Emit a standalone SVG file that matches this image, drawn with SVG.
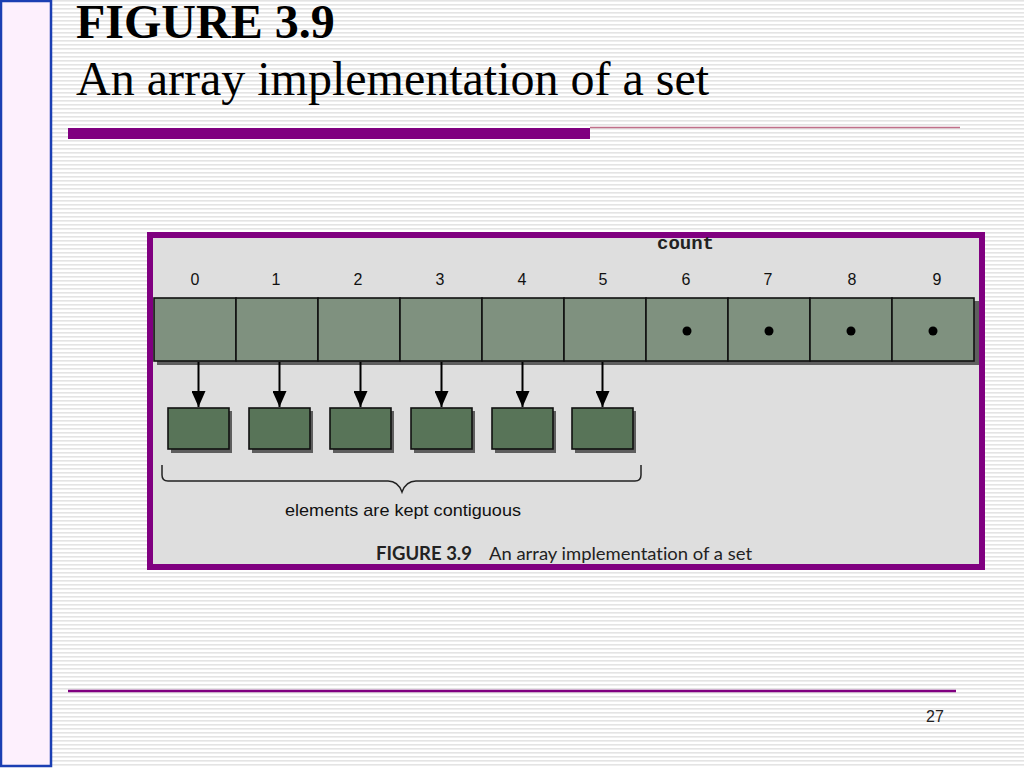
<svg xmlns="http://www.w3.org/2000/svg" width="1024" height="768" viewBox="0 0 1024 768">
<defs>
<pattern id="stripes" x="0" y="0" width="8" height="4" patternUnits="userSpaceOnUse">
<rect x="0" y="0" width="8" height="4" fill="#ffffff"/>
<rect x="0" y="0" width="8" height="1.6" fill="#e4e4e4"/>
</pattern>
<marker id="arrow" viewBox="0 0 16 14" refX="16" refY="7" markerWidth="16" markerHeight="14" markerUnits="userSpaceOnUse" orient="auto">
<path d="M0,0 L16,7 L0,14 Z" fill="#000"/>
</marker>
<style>
.cell{fill:#7f917f;stroke:#111;stroke-width:1.6}
.elem{fill:#587458;stroke:#111;stroke-width:1.6}
.shadow{fill:#5e5e5e}
.idx{font-family:"Liberation Sans",Arial,sans-serif;font-size:16px;fill:#111;text-anchor:middle}
.dot{fill:#000}
.conn{stroke:#000;stroke-width:2;fill:none}
</style>
</defs>

<rect x="0" y="0" width="1024" height="768" fill="url(#stripes)"/>
<rect x="1" y="1" width="50" height="765" fill="#fdf0fd" stroke="#1b3fb3" stroke-width="2.5"/>

<g id="title">
<text x="76" y="38" font-family="Liberation Serif,'Times New Roman',serif" font-weight="bold" font-size="48" fill="#000">FIGURE 3.9</text>
<text x="76" y="95" font-family="Liberation Serif,'Times New Roman',serif" font-size="48" fill="#000">An array implementation of a set</text>
</g>

<rect x="68" y="128" width="522" height="11" fill="#800080"/>
<line x1="590" y1="127.5" x2="960" y2="127.5" stroke="#c0708a" stroke-width="1.5"/>

<g id="frame">
<rect x="150" y="235" width="832" height="332" fill="#dedede" stroke="#800080" stroke-width="6"/>
</g>

<text x="657" y="249" font-family="Liberation Mono,'Courier New',monospace" font-weight="bold" font-size="18" fill="#222" textLength="57" lengthAdjust="spacingAndGlyphs">count</text>

<g id="array">
<rect class="shadow" x="157" y="301" width="822" height="64"/>
<rect class="cell" x="154" y="298" width="82" height="63"/>
<rect class="cell" x="236" y="298" width="82" height="63"/>
<rect class="cell" x="318" y="298" width="82" height="63"/>
<rect class="cell" x="400" y="298" width="82" height="63"/>
<rect class="cell" x="482" y="298" width="82" height="63"/>
<rect class="cell" x="564" y="298" width="82" height="63"/>
<rect class="cell" x="646" y="298" width="82" height="63"/>
<rect class="cell" x="728" y="298" width="82" height="63"/>
<rect class="cell" x="810" y="298" width="82" height="63"/>
<rect class="cell" x="892" y="298" width="82" height="63"/>
<circle class="dot" cx="687" cy="331" r="4.5"/>
<circle class="dot" cx="769" cy="331" r="4.5"/>
<circle class="dot" cx="851" cy="331" r="4.5"/>
<circle class="dot" cx="933" cy="331" r="4.5"/>
<text class="idx" x="195" y="285">0</text>
<text class="idx" x="276" y="285">1</text>
<text class="idx" x="358" y="285">2</text>
<text class="idx" x="440" y="285">3</text>
<text class="idx" x="522" y="285">4</text>
<text class="idx" x="603" y="285">5</text>
<text class="idx" x="686" y="285">6</text>
<text class="idx" x="768" y="285">7</text>
<text class="idx" x="852" y="285">8</text>
<text class="idx" x="937" y="285">9</text>
</g>

<g id="element0"><rect class="shadow" x="171" y="411" width="61" height="42"/><rect class="elem" x="168" y="408" width="61" height="41"/></g>
<g id="element1"><rect class="shadow" x="252" y="411" width="61" height="42"/><rect class="elem" x="249" y="408" width="61" height="41"/></g>
<g id="element2"><rect class="shadow" x="333" y="411" width="61" height="42"/><rect class="elem" x="330" y="408" width="61" height="41"/></g>
<g id="element3"><rect class="shadow" x="414" y="411" width="61" height="42"/><rect class="elem" x="411" y="408" width="61" height="41"/></g>
<g id="element4"><rect class="shadow" x="495" y="411" width="61" height="42"/><rect class="elem" x="492" y="408" width="61" height="41"/></g>
<g id="element5"><rect class="shadow" x="575" y="411" width="61" height="42"/><rect class="elem" x="572" y="408" width="61" height="41"/></g>

<g id="connectors">
<line class="conn" x1="198.5" y1="362" x2="198.5" y2="407" marker-end="url(#arrow)"/>
<line class="conn" x1="279.5" y1="362" x2="279.5" y2="407" marker-end="url(#arrow)"/>
<line class="conn" x1="360.5" y1="362" x2="360.5" y2="407" marker-end="url(#arrow)"/>
<line class="conn" x1="441.5" y1="362" x2="441.5" y2="407" marker-end="url(#arrow)"/>
<line class="conn" x1="522.5" y1="362" x2="522.5" y2="407" marker-end="url(#arrow)"/>
<line class="conn" x1="602.5" y1="362" x2="602.5" y2="407" marker-end="url(#arrow)"/>
</g>

<g id="brace">
<path d="M162,465 L162,475 Q162,481 168,481 L388,481 Q398,481 402,492 Q406,481 416,481 L635,481 Q641,481 641,475 L641,465" fill="none" stroke="#222" stroke-width="1.5"/>
<text x="285" y="516" font-family="Liberation Sans,Arial,sans-serif" font-size="17" fill="#111" textLength="236" lengthAdjust="spacingAndGlyphs">elements are kept contiguous</text>
</g>

<g id="caption" style="font-variant-ligatures:none">
<text x="376" y="560" font-family="Lato,'Open Sans',sans-serif" font-weight="bold" font-size="18" fill="#222" textLength="96" lengthAdjust="spacingAndGlyphs">FIGURE 3.9</text>
<text x="489" y="560" font-family="Lato,'Open Sans',sans-serif" font-size="18" fill="#222" textLength="263" lengthAdjust="spacingAndGlyphs">An array implementation of a set</text>
</g>

<line x1="68" y1="691" x2="956" y2="691" stroke="#800080" stroke-width="2.5"/>
<text x="935" y="722" font-family="Liberation Sans,Arial,sans-serif" font-size="16" fill="#222" text-anchor="middle">27</text>
</svg>
